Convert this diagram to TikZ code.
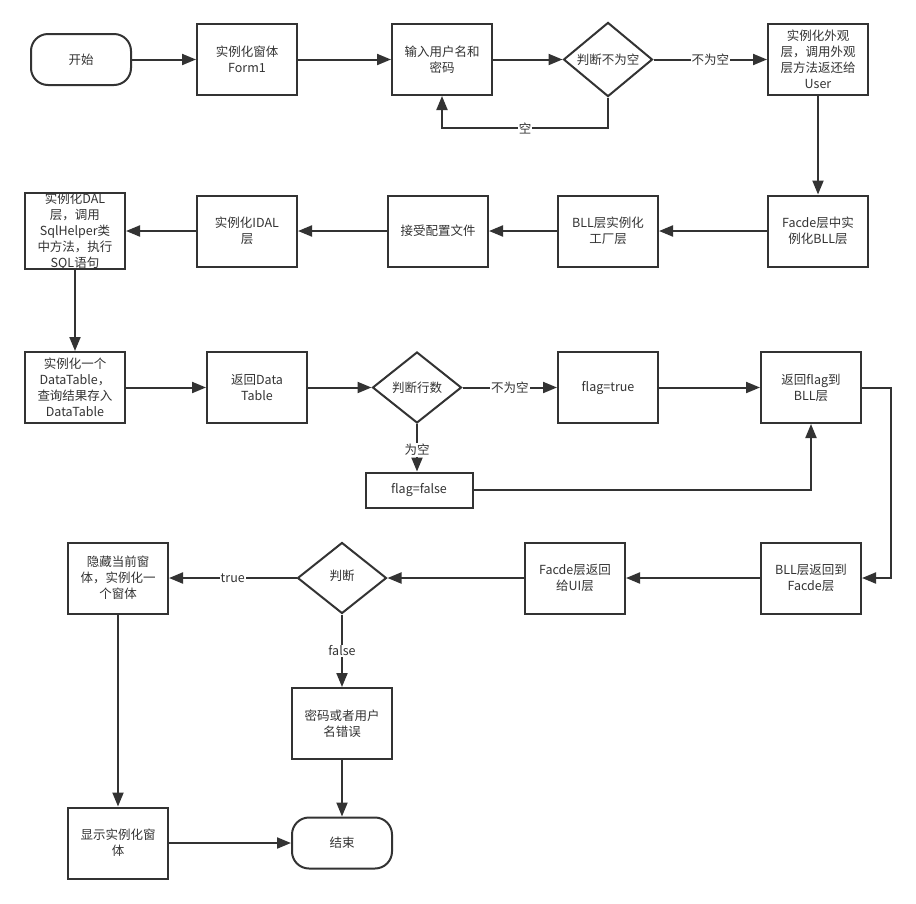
\documentclass[tikz,border=0pt]{standalone}
\usepackage{fontspec}
\setmainfont{Noto Sans CJK SC}
\usetikzlibrary{arrows.meta,shapes.geometric,calc}
\definecolor{ink}{HTML}{333333}
\begin{document}
\begin{tikzpicture}[x=1pt,y=-1pt,
  every node/.style={font=\fontsize{12.5}{16}\selectfont, text=ink},
  box/.style={draw=ink, line width=2pt, fill=white, minimum width=100pt, minimum height=71pt, align=center, inner sep=0pt},
  smallbox/.style={draw=ink, line width=2pt, fill=white, minimum width=107pt, minimum height=35pt, align=center, inner sep=0pt},
  term/.style={draw=ink, line width=2pt, fill=white, rounded corners=17pt, minimum width=100pt, minimum height=51pt, align=center, inner sep=0pt},
  dia/.style={draw=ink, line width=2pt, fill=white, diamond, minimum width=89pt, minimum height=71pt, align=center, inner sep=0pt},
  conn/.style={draw=ink, line width=2pt, -{Triangle[length=14pt,width=11pt]}},
  lbl/.style={fill=white, inner sep=1pt}
]
\useasboundingbox (0,0) rectangle (916,903);
% Row 1
\node[term] (start) at (81,59.5) {开始};
\node[box] (form1) at (247,59.5) {实例化窗体\\Form1};
\node[box] (input) at (442,59.5) {输入用户名和\\密码};
\node[dia] (d1) at (608,59.5) {判断不为空};
\node[box] (facade) at (818,59.5) {实例化外观\\层，调用外观\\层方法返还给\\User};
% Row 2
\node[box] (bllf) at (818,231) {Facde层中实\\例化BLL层};
\node[box] (factory) at (608,231) {BLL层实例化\\工厂层};
\node[box] (config) at (438,231) {接受配置文件};
\node[box] (idal) at (247,231) {实例化IDAL\\层};
\node[box] (dal) at (75,231) {实例化DAL\\层，调用\\SqlHelper类\\中方法，执行\\SQL语句};
% Row 3
\node[box] (dt) at (75,387.5) {实例化一个\\DataTable，\\查询结果存入\\DataTable};
\node[box] (rdt) at (257,387.5) {返回Data\\Table};
\node[dia] (d2) at (417,387.5) {判断行数};
\node[box] (ftrue) at (608,387.5) {flag=true};
\node[box] (rflag) at (811,387.5) {返回flag到\\BLL层};
\node[smallbox] (ffalse) at (419,490) {\raisebox{4pt}{flag=false}};
% Row 4
\node[box] (bllr) at (811,578) {BLL层返回到\\Facde层};
\node[box] (facui) at (575,578) {Facde层返回\\给UI层};
\node[dia] (d3) at (342,578) {\raisebox{5pt}{判断}};
\node[box] (hide) at (118,578) {隐藏当前窗\\体，实例化一\\个窗体};
% Row 5
\node[box] (pwd) at (342,723.5) {密码或者用户\\名错误};
\node[box] (show) at (118,843) {显示实例化窗\\体};
\node[term] (end) at (342,843) {结束};
% Connectors
\draw[conn] (start) -- (form1);
\draw[conn] (form1) -- (input);
\draw[conn] (input) -- (d1);
\draw[conn] (d1) -- node[lbl] {不为空} (facade);
\draw[conn] (d1.south) -- ++(0,30.5) -| node[lbl,pos=0.25] {空} (input.south);
\draw[conn] (facade) -- (bllf);
\draw[conn] (bllf) -- (factory);
\draw[conn] (factory) -- (config);
\draw[conn] (config) -- (idal);
\draw[conn] (idal) -- (dal);
\draw[conn] (dal) -- (dt);
\draw[conn] (dt) -- (rdt);
\draw[conn] (rdt) -- (d2);
\draw[conn] (d2) -- node[lbl] {不为空} (ftrue);
\draw[conn] (ftrue) -- (rflag);
\draw[conn] (d2.south) -- node[lbl,pos=0.55] {为空} (d2.south |- ffalse.north);
\draw[conn] (ffalse.east) -| (rflag.south);
\draw[conn] (rflag.east) -- ++(29,0) |- (bllr.east);
\draw[conn] (bllr) -- (facui);
\draw[conn] (facui) -- (d3);
\draw[conn] (d3) -- node[lbl] {true} (hide);
\draw[conn] (d3) -- node[lbl] {false} (pwd);
\draw[conn] (hide) -- (show);
\draw[conn] (show) -- (end);
\draw[conn] (pwd) -- (end);
\end{tikzpicture}
\end{document}
